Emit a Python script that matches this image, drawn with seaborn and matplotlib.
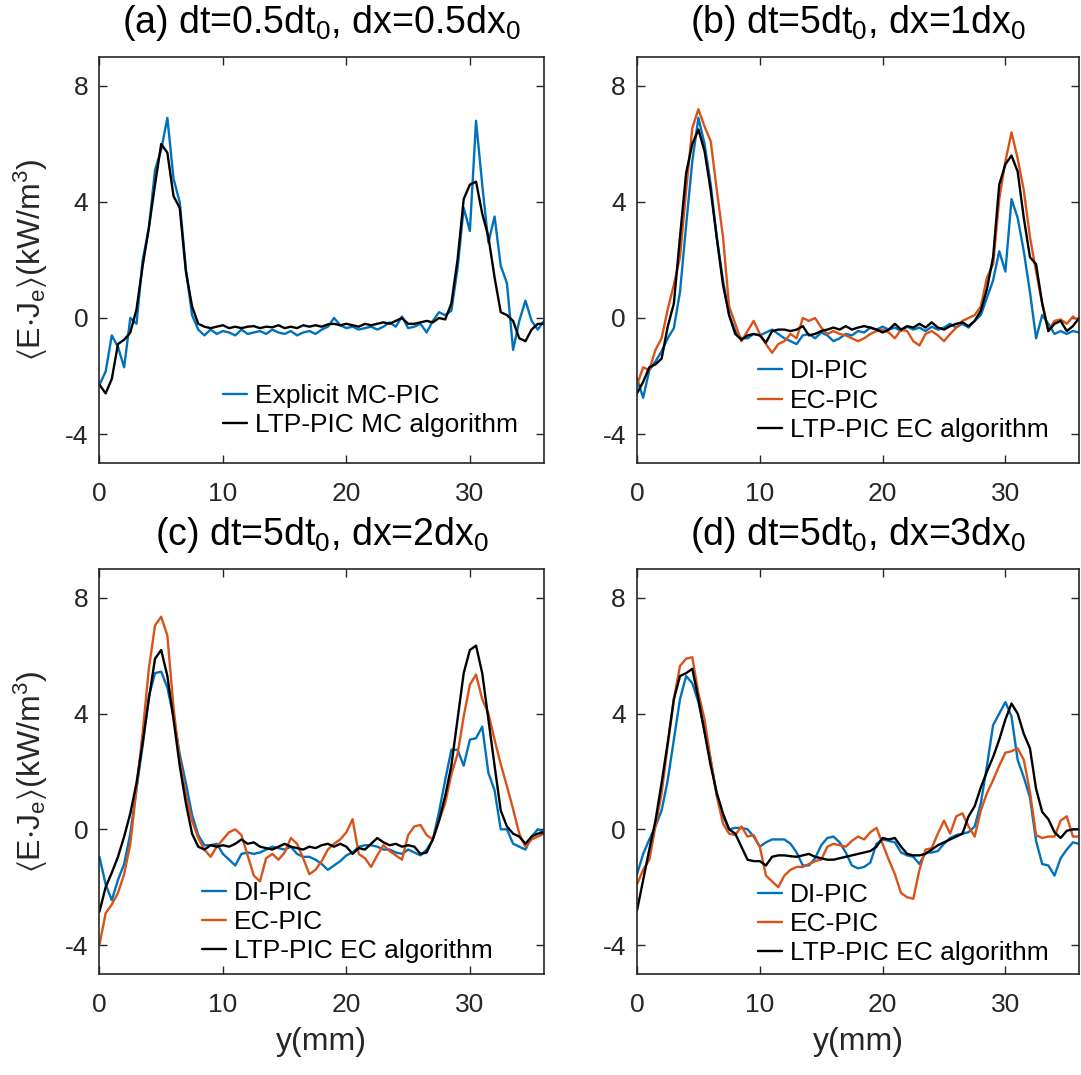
import numpy as np
import pandas as pd
import matplotlib
matplotlib.use("Agg")
import matplotlib.pyplot as plt
import seaborn as sns

# Position along y (mm), shared sampling for every curve
y_mm = np.arange(0, 36.5, 0.5)

# (a) dt=0.5dt0, dx=0.5dx0
a_explicit = [-2.3, -1.85, -0.6, -1.0, -1.7, 0.0, -0.2, 2.0, 3.1, 5.1,
              5.8, 6.9, 4.8, 4.0, 1.7, 0.1, -0.4, -0.6, -0.4, -0.55,
              -0.45, -0.5, -0.6, -0.4, -0.55, -0.5, -0.45, -0.55, -0.4, -0.5,
              -0.55, -0.45, -0.6, -0.5, -0.45, -0.55, -0.4, -0.3, 0.0, -0.25,
              -0.35, -0.3, -0.4, -0.35, -0.3, -0.4, -0.3, -0.15, -0.3, 0.05,
              -0.35, -0.3, -0.2, -0.5, -0.1, 0.2, 0.1, 0.25, 1.7, 3.8,
              3.0, 6.8, 4.6, 2.6, 3.5, 1.8, 1.2, -1.1, -0.1, 0.6,
              -0.1, -0.4, -0.1]
a_ltp = [-2.3, -2.6, -2.1, -0.9, -0.75, -0.5, 0.3, 1.8, 3.1, 4.6,
         6.0, 5.7, 4.2, 3.8, 1.6, 0.4, -0.2, -0.3, -0.35, -0.3,
         -0.25, -0.35, -0.3, -0.35, -0.3, -0.28, -0.35, -0.3, -0.32, -0.25,
         -0.35, -0.3, -0.35, -0.25, -0.3, -0.25, -0.3, -0.22, -0.2, -0.25,
         -0.2, -0.25, -0.3, -0.2, -0.25, -0.2, -0.15, -0.2, -0.1, 0.0,
         -0.2, -0.2, -0.15, -0.1, -0.15, 0.0, -0.05, 0.5, 2.0, 4.1,
         4.6, 4.7, 3.6, 2.8, 1.4, 0.2, 0.1, -0.1, -0.7, -0.8,
         -0.4, -0.2, -0.2]

# (b) dt=5dt0, dx=1dx0
b_di = [-2.1, -2.75, -1.8, -1.5, -1.15, -0.7, -0.35, 0.9, 3.2, 5.4,
        6.9, 6.0, 4.6, 2.75, 1.3, 0.1, -0.45, -0.7, -0.7, -0.55,
        -0.6, -0.5, -0.4, -0.55, -0.7, -0.8, -0.9, -0.6, -0.55, -0.7,
        -0.5, -0.6, -0.8, -0.7, -0.55, -0.6, -0.45, -0.5, -0.33, -0.4,
        -0.3, -0.4, -0.33, -0.45, -0.3, -0.4, -0.33, -0.45, -0.3, -0.4,
        -0.33, -0.2, -0.33, -0.2, -0.33, -0.1, 0.1, 0.7, 1.3, 2.3,
        1.6, 4.1, 3.45, 2.3, 0.9, -0.7, 0.1, -0.2, -0.55, -0.45,
        -0.55, -0.45, -0.5]
b_ec = [-2.3, -1.7, -1.8, -1.1, -0.7, 0.3, 1.15, 2.1, 4.4, 6.55,
        7.2, 6.6, 6.1, 4.4, 2.8, 0.4, -0.2, -0.8, -0.45, -0.1,
        -0.55, -0.9, -1.2, -0.9, -0.8, -0.55, -0.7, 0.0, -0.1, 0.0,
        -0.33, -0.55, -0.45, -0.55, -0.6, -0.7, -0.8, -0.7, -0.55, -0.45,
        -0.4, -0.5, -0.7, -0.4, -0.45, -0.8, -0.95, -0.55, -0.45, -0.6,
        -0.8, -0.55, -0.33, -0.1, 0.0, 0.1, 0.4, 1.4, 1.85, 4.1,
        5.4, 6.4, 5.5, 4.4, 2.8, 1.6, 0.5, -0.45, -0.1, -0.05,
        -0.2, 0.05, -0.1]
b_ltp = [-2.6, -2.2, -1.7, -1.6, -1.4, -0.3, 0.5, 2.8, 5.0, 6.0,
         6.5, 5.75, 4.4, 2.75, 1.15, 0.1, -0.55, -0.75, -0.6, -0.55,
         -0.6, -0.85, -0.45, -0.4, -0.4, -0.45, -0.4, -0.28, -0.6, -0.55,
         -0.45, -0.4, -0.33, -0.4, -0.28, -0.4, -0.33, -0.28, -0.33, -0.4,
         -0.5, -0.4, -0.2, -0.4, -0.28, -0.33, -0.2, -0.33, -0.15, -0.33,
         -0.4, -0.28, -0.2, -0.15, -0.28, -0.1, 0.25, 1.0, 2.1, 4.6,
         5.3, 5.6, 5.05, 3.45, 2.1, 1.85, 0.5, -0.45, -0.2, -0.1,
         -0.45, -0.28, 0.0]

# (c) dt=5dt0, dx=2dx0
c_di = [-0.95, -1.9, -2.45, -1.75, -1.2, -0.15, 1.4, 2.9, 4.6, 5.4,
        5.45, 4.9, 3.9, 2.6, 1.6, 0.5, -0.2, -0.55, -0.55, -0.5,
        -0.85, -1.05, -1.25, -0.85, -0.8, -0.85, -0.8, -0.7, -0.6, -0.65,
        -0.7, -0.6, -0.85, -0.95, -0.95, -1.05, -1.2, -1.4, -1.25, -1.1,
        -0.9, -0.8, -0.6, -0.55, -0.55, -0.6, -0.7, -0.7, -0.8, -0.85,
        -0.7, -0.8, -0.9, -0.7, -0.35, 0.6, 1.7, 2.75, 2.75, 2.2,
        3.1, 3.15, 3.55, 1.95, 1.35, 0.0, 0.0, -0.5, -0.6, -0.7,
        -0.25, 0.0, -0.1]
c_ec = [-4.0, -2.9, -2.6, -2.2, -1.55, -0.5, 1.4, 3.35, 5.55, 7.05,
        7.35, 6.7, 4.2, 2.4, 1.2, 0.3, -0.3, -0.7, -0.95, -0.6,
        -0.35, -0.1, 0.0, -0.2, -0.9, -1.6, -1.8, -1.0, -0.85, -1.05,
        -0.8, -0.3, -0.5, -1.0, -1.55, -1.4, -1.1, -0.7, -0.5, -0.35,
        -0.1, 0.35, -0.85, -1.0, -1.3, -0.9, -0.55, -0.75, -0.9, -1.05,
        -0.2, 0.1, 0.15, -0.2, -0.35, 0.3, 0.9, 1.9, 2.6, 3.9,
        5.0, 5.35, 4.5, 4.0, 3.1, 2.25, 1.5, 0.7, -0.15, -0.6,
        -0.35, -0.25, -0.15]
c_ltp = [-2.85, -2.0, -1.5, -0.95, -0.25, 0.55, 1.6, 3.0, 4.5, 5.9,
         6.2, 5.3, 3.8, 2.2, 0.9, -0.15, -0.6, -0.7, -0.55, -0.6,
         -0.55, -0.6, -0.5, -0.35, -0.5, -0.45, -0.6, -0.65, -0.7, -0.6,
         -0.5, -0.6, -0.65, -0.7, -0.6, -0.65, -0.55, -0.5, -0.6, -0.5,
         -0.6, -0.85, -0.65, -0.7, -0.5, -0.3, -0.45, -0.55, -0.5, -0.6,
         -0.55, -0.6, -0.85, -0.8, -0.35, 0.3, 1.15, 2.2, 3.8, 5.4,
         6.2, 6.35, 5.4, 3.8, 2.2, 0.65, 0.1, -0.15, -0.25, -0.5,
         -0.25, -0.15, -0.1]

# (d) dt=5dt0, dx=3dx0
d_di = [-1.55, -0.85, -0.35, 0.1, 0.65, 1.7, 3.1, 4.5, 5.3, 5.05,
        4.4, 3.4, 2.4, 1.15, 0.45, 0.0, 0.05, 0.05, 0.0, -0.25,
        -0.6, -0.45, -0.35, -0.35, -0.35, -0.5, -0.8, -1.25, -1.25, -1.0,
        -0.55, -0.3, -0.25, -0.45, -0.8, -1.25, -1.35, -1.3, -1.15, -0.5,
        -0.35, -0.4, -0.45, -0.8, -0.9, -0.95, -1.2, -0.8, -0.8, -0.75,
        -0.5, -0.3, -0.2, -0.15, -0.1, 0.1, 0.9, 2.2, 3.6, 4.0,
        4.4, 3.9, 2.4, 1.8, 1.1, -0.4, -1.2, -1.25, -1.6, -1.0,
        -0.7, -0.45, -0.5]
d_ec = [-1.9, -1.4, -1.05, 0.1, 1.25, 2.9, 4.5, 5.65, 5.9, 5.95,
        4.7, 3.8, 2.4, 1.15, 0.2, -0.15, -0.2, 0.1, -0.25, -0.2,
        -0.6, -1.6, -1.8, -2.0, -1.6, -1.4, -1.3, -1.3, -1.2, -1.1,
        -1.05, -0.6, -0.5, -0.55, -0.6, -0.4, -0.25, -0.35, -0.1, 0.05,
        -0.5, -1.05, -1.55, -2.2, -2.35, -2.4, -1.4, -0.7, -0.65, -0.15,
        0.3, -0.15, 0.45, 0.55, 0.1, -0.25, 0.65, 1.25, 1.7, 2.2,
        2.65, 2.7, 2.8, 2.4, 1.3, -0.2, -0.3, -0.25, -0.25, 0.3,
        0.45, -0.25, -0.25]
d_ltp = [-2.8, -1.75, -0.7, 0.3, 1.6, 3.0, 4.5, 5.3, 5.4, 5.55,
         4.5, 3.35, 2.2, 1.25, 0.55, 0.0, -0.15, -0.6, -1.05, -1.1,
         -1.1, -1.25, -0.95, -0.9, -0.9, -0.93, -0.95, -0.9, -0.85, -0.95,
         -1.0, -1.05, -1.05, -1.0, -0.95, -0.9, -0.85, -0.8, -0.75, -0.6,
         -0.3, -0.35, -0.3, -0.6, -0.85, -0.9, -0.9, -0.85, -0.7, -0.55,
         -0.45, -0.35, -0.25, -0.15, 0.45, 0.8, 1.45, 2.0, 2.5, 3.1,
         3.8, 4.35, 4.0, 3.3, 2.8, 1.4, 0.6, 0.35, -0.1, -0.3,
         -0.05, 0.0, 0.0]

titles = [r"(a) dt=0.5dt$_0$, dx=0.5dx$_0$",
          r"(b) dt=5dt$_0$, dx=1dx$_0$",
          r"(c) dt=5dt$_0$, dx=2dx$_0$",
          r"(d) dt=5dt$_0$, dx=3dx$_0$"]
x_ticks = [0, 10, 20, 30]
y_ticks = [-4, 0, 4, 8]

BLUE = "#0072BD"
ORANGE = "#D95319"
BLACK = "#000000"

panels = [
    dict(title=titles[0], rect=[0.0920, 0.5693, 0.4112, 0.3777],
         series=[("Explicit MC-PIC", a_explicit, BLUE),
                 ("LTP-PIC MC algorithm", a_ltp, BLACK)],
         leg=(0.278, 0.195), ylab=True, xlab=False),
    dict(title=titles[1], rect=[0.5893, 0.5693, 0.4089, 0.3777],
         series=[("DI-PIC", b_di, BLUE), ("EC-PIC", b_ec, ORANGE),
                 ("LTP-PIC EC algorithm", b_ltp, BLACK)],
         leg=(0.274, 0.255), ylab=False, xlab=False),
    dict(title=titles[2], rect=[0.0920, 0.0940, 0.4112, 0.3767],
         series=[("DI-PIC", c_di, BLUE), ("EC-PIC", c_ec, ORANGE),
                 ("LTP-PIC EC algorithm", c_ltp, BLACK)],
         leg=(0.231, 0.230), ylab=True, xlab=True),
    dict(title=titles[3], rect=[0.5893, 0.0940, 0.4089, 0.3767],
         series=[("DI-PIC", d_di, BLUE), ("EC-PIC", d_ec, ORANGE),
                 ("LTP-PIC EC algorithm", d_ltp, BLACK)],
         leg=(0.274, 0.225), ylab=False, xlab=True),
]

sns.set_theme(style="ticks")
plt.rcParams.update({
    "font.family": ["Liberation Sans", "DejaVu Sans"],
    "mathtext.fontset": "custom",
    "mathtext.rm": "Liberation Sans",
    "mathtext.it": "Liberation Sans:italic",
    "mathtext.bf": "Liberation Sans:bold",
    "mathtext.default": "regular",
    "axes.unicode_minus": False,
    "axes.edgecolor": "#262626",
    "axes.linewidth": 1.2,
    "text.color": "#000000",
    "xtick.color": "#262626",
    "ytick.color": "#262626",
})

fig = plt.figure(figsize=(10.81, 10.75), dpi=100, facecolor="white")

for p in panels:
    ax = fig.add_axes(p["rect"])
    for label, vals, color in p["series"]:
        df = pd.DataFrame({"y_mm": y_mm, "EJ": vals})
        sns.lineplot(data=df, x="y_mm", y="EJ", ax=ax, color=color,
                     linewidth=1.7, label=label, estimator=None, sort=False)
    ax.set_xlim(0, 36)
    ax.set_ylim(-5, 9)
    ax.set_xticks(x_ticks)
    ax.set_yticks(y_ticks)
    ax.tick_params(axis="both", direction="in", length=6, width=1.0,
                   top=True, right=True, labelsize=19, labelcolor="#262626")
    ax.tick_params(axis="x", pad=14)
    ax.tick_params(axis="y", pad=8)
    for s in ax.spines.values():
        s.set_visible(True)
        s.set_linewidth(1.2)
    ax.set_title(p["title"], fontsize=27, pad=17)
    if p["ylab"]:
        ax.set_ylabel(r"$\langle$E$\cdot$J$_e\rangle$(kW/m$^3$)",
                      fontsize=23, color="#262626")
        ax.yaxis.set_label_coords(-0.112, 0.5)
    else:
        ax.set_ylabel("")
    if p["xlab"]:
        ax.set_xlabel("y(mm)", fontsize=23, color="#262626")
        ax.xaxis.set_label_coords(0.5, -0.13)
    else:
        ax.set_xlabel("")
    ax.legend(loc="upper left", bbox_to_anchor=p["leg"], frameon=False,
              fontsize=19, handlelength=0.9, handletextpad=0.3,
              labelspacing=0.2, borderpad=0, borderaxespad=0)

fig.savefig("out.png", dpi=100, facecolor="white")
